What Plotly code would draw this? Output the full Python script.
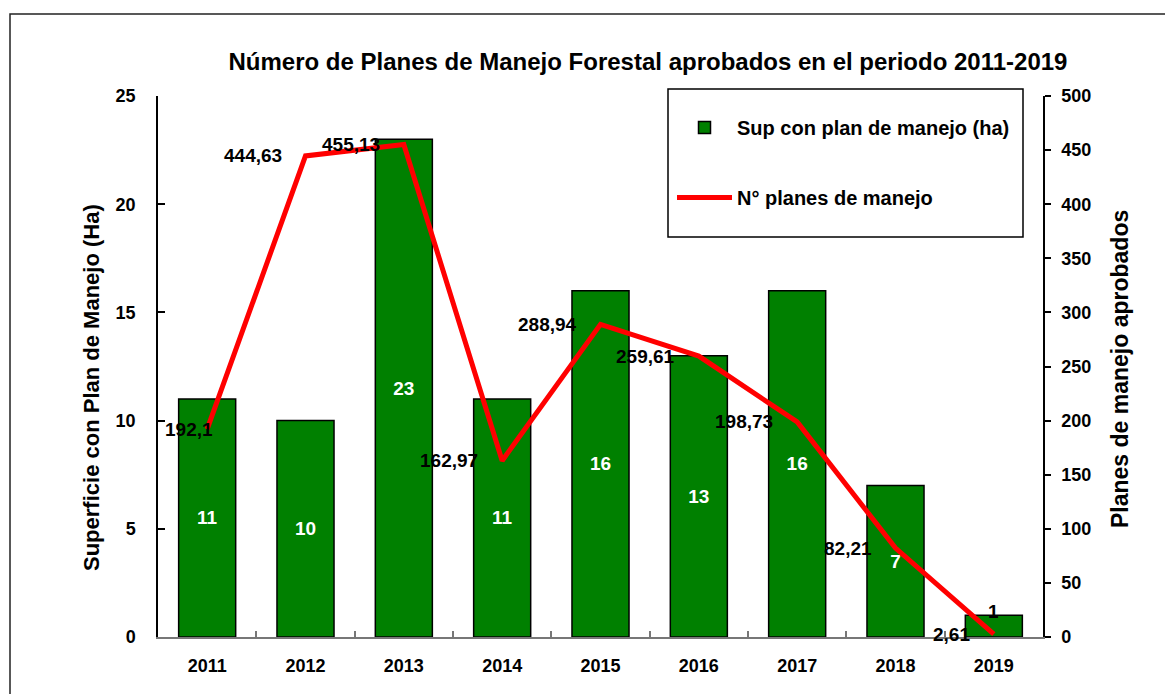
import plotly.graph_objects as go

years = ["2011", "2012", "2013", "2014", "2015", "2016", "2017", "2018", "2019"]
bar_values = [11, 10, 23, 11, 16, 13, 16, 7, 1]
line_values = [192.1, 444.63, 455.13, 162.97, 288.94, 259.61, 198.73, 82.21, 2.61]
line_labels = ["192,1", "444,63", "455,13", "162,97", "288,94", "259,61", "198,73", "82,21", "2,61"]
bar_name = "Sup con plan de manejo (ha)"
line_name = "N° planes de manejo"
title_text = "Número de Planes de Manejo Forestal aprobados en el periodo 2011-2019"
left_title = "Superficie con Plan de Manejo (Ha)"
right_title = "Planes de manejo aprobados"

FONT = "Liberation Sans, Arial, sans-serif"
W, H = 1173, 694
# plot area in figure pixels (page has an 8px body offset)
L, R, T, B = 150, 1035, 88, 629

def px_x(px):
    return (px - L) / (R - L)

def px_y(py):
    return (B - py) / (B - T)

fig = go.Figure()

# bar labels: those that fit are drawn inside (white); small bars get an annotation just above
fits = [v >= 3 for v in bar_values]
fig.add_trace(go.Bar(
    x=years, y=bar_values, name=bar_name,
    marker=dict(color="#008000", line=dict(color="black", width=1.5)),
    text=[str(v) if f else "" for v, f in zip(bar_values, fits)],
    textposition="inside",
    insidetextanchor="middle",
    textfont=dict(family=FONT, size=19, weight="bold", color="white"),
    constraintext="none",
    legendgroup="a",
))
for i, (v, f) in enumerate(zip(bar_values, fits)):
    if not f:
        fig.add_annotation(x=i, y=v, xref="x", yref="y", text="<b>%s</b>" % v,
                           showarrow=False, xanchor="center", yanchor="middle",
                           yshift=4, font=dict(family=FONT, size=19, color="black"))

fig.add_trace(go.Scatter(
    x=years, y=line_values, name=line_name, yaxis="y2",
    mode="lines", line=dict(color="#ff0000", width=5),
    legendgroup="b",
))

for i, (v, lab) in enumerate(zip(line_values, line_labels)):
    if i == 0:
        # label kept inside the plot area, next to the left axis
        fig.add_annotation(x=-0.5, y=v, xref="x", yref="y2", text="<b>%s</b>" % lab,
                           showarrow=False, xanchor="left", yanchor="middle",
                           xshift=5, font=dict(family=FONT, size=19, color="black"))
    else:
        fig.add_annotation(x=i, y=v, xref="x", yref="y2", text="<b>%s</b>" % lab,
                           showarrow=False, xanchor="right", yanchor="middle",
                           xshift=-22, font=dict(family=FONT, size=19, color="black"))

# axis titles
fig.add_annotation(x=px_x(83), y=px_y(380), xref="paper", yref="paper",
                   text="<b>%s</b>" % left_title, textangle=-90, showarrow=False,
                   xanchor="center", yanchor="middle",
                   font=dict(family=FONT, size=22, color="black"))
fig.add_annotation(x=px_x(1112), y=px_y(361), xref="paper", yref="paper",
                   text="<b>%s</b>" % right_title, textangle=-90, showarrow=False,
                   xanchor="center", yanchor="middle",
                   font=dict(family=FONT, size=23, color="black"))

# outer border
fig.add_shape(type="rect", xref="paper", yref="paper",
              x0=px_x(2), x1=px_x(1240), y0=px_y(6), y1=px_y(760),
              line=dict(color="#222222", width=1.5), layer="below")
# legend box
fig.add_shape(type="rect", xref="paper", yref="paper",
              x0=px_x(660), x1=px_x(1015), y0=px_y(81), y1=px_y(229),
              line=dict(color="black", width=1.5), fillcolor="white", layer="below")

tick_font = dict(family=FONT, size=18, color="black", weight="bold")

fig.update_layout(
    width=W, height=H,
    margin=dict(l=L, r=W - R, t=T, b=H - B, autoexpand=False),
    paper_bgcolor="white", plot_bgcolor="rgba(0,0,0,0)",
    font=dict(family=FONT, size=18, color="black"),
    title=dict(text="<b>%s</b>" % title_text, xref="container", yref="container",
               x=640 / W, y=1 - 54 / H, xanchor="center", yanchor="middle",
               font=dict(family=FONT, size=24, color="black")),
    bargap=0.42,
    showlegend=True,
    legend=dict(x=px_x(664), y=px_y(100), xanchor="left", yanchor="top",
                bgcolor="rgba(0,0,0,0)", borderwidth=0,
                font=dict(family=FONT, size=20, color="black", weight="bold"),
                traceorder="grouped", tracegroupgap=41, itemwidth=55),
    xaxis=dict(type="category", range=[-0.5, 8.5], autorange=False,
               showline=True, linecolor="#777777", linewidth=1.5,
               ticks="inside", tickson="boundaries", ticklen=6, tickcolor="#777777",
               tickwidth=1.5, showgrid=False, zeroline=False, automargin=False,
               tickangle=0, tickfont=tick_font, ticklabelstandoff=12),
    yaxis=dict(range=[0, 25], autorange=False, dtick=5, showline=True,
               linecolor="black", linewidth=1.5,
               ticks="inside", ticklen=7, tickcolor="black", tickwidth=1.5,
               showgrid=False, zeroline=False, automargin=False,
               tickfont=tick_font, ticklabelstandoff=17),
    yaxis2=dict(range=[0, 500], autorange=False, dtick=50, overlaying="y", side="right",
                showline=True, linecolor="black", linewidth=1.5,
                ticks="outside", ticklen=6, tickcolor="black", tickwidth=1.5,
                showgrid=False, zeroline=False, automargin=False,
                tickfont=tick_font, ticklabelstandoff=7),
)

fig.write_html("out.html")
